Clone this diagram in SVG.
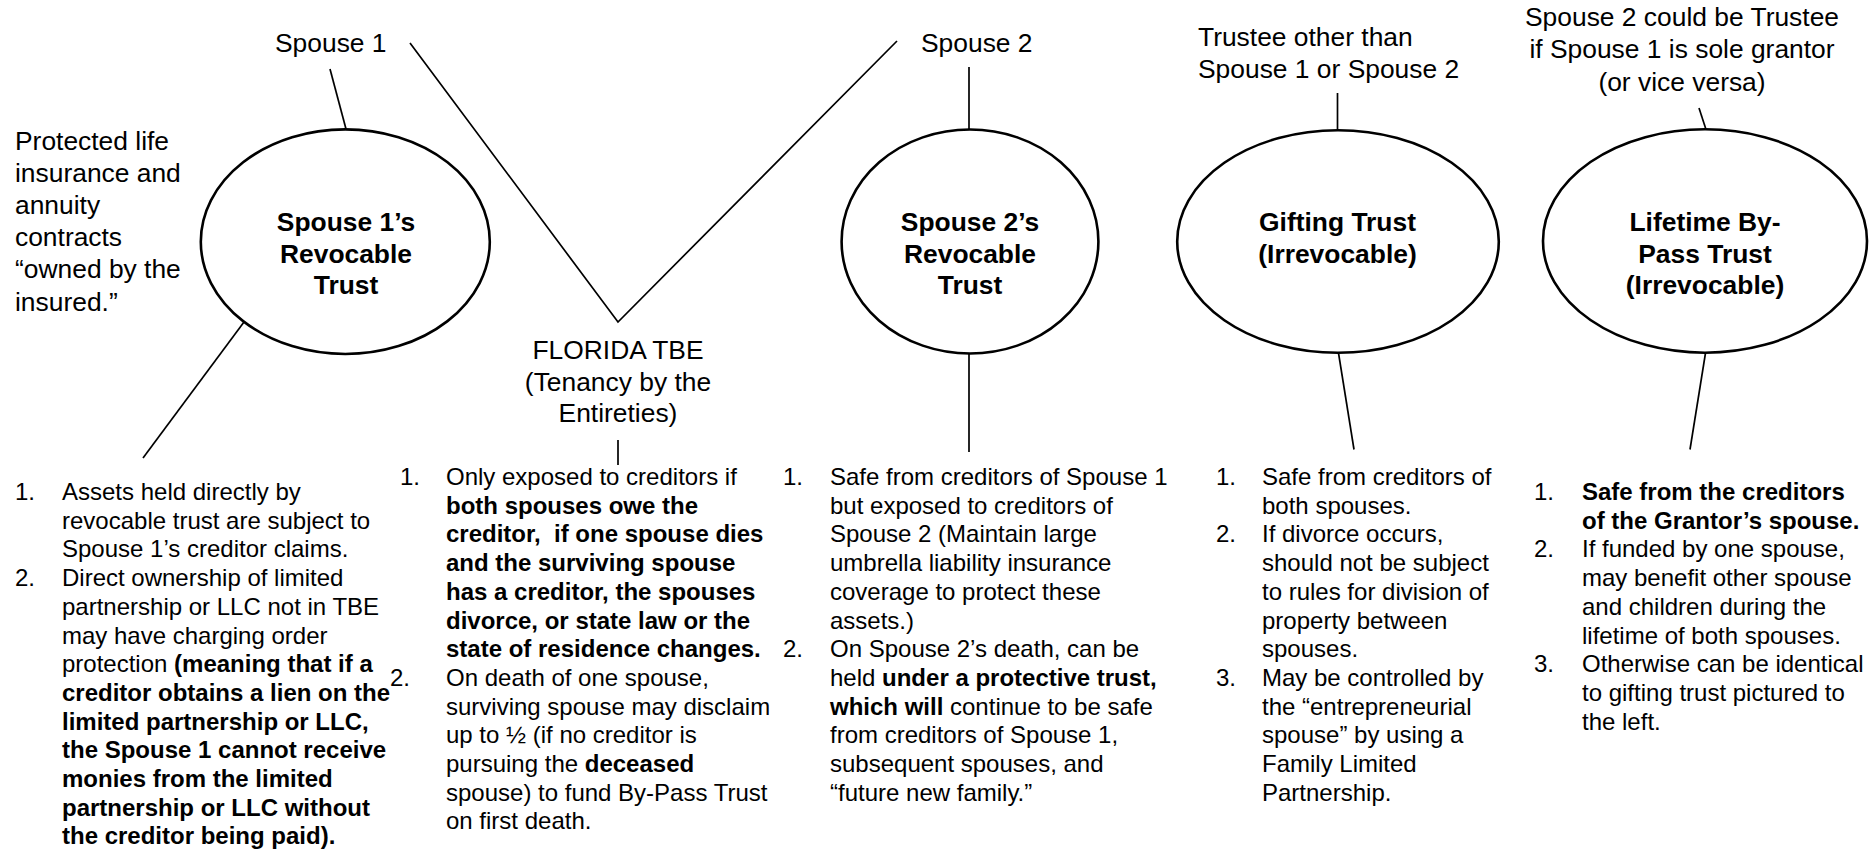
<svg xmlns="http://www.w3.org/2000/svg" width="1872" height="851" viewBox="0 0 1872 851">
  <style>
    text { font-family: "Liberation Sans", Arial, sans-serif; fill: #000; }
    .lbl { font-size: 26.4px; }
    .ttl { font-size: 26.4px; font-weight: bold; text-anchor: middle; }
    .li { font-size: 24px; }
    .b { font-weight: bold; }
    .mid { text-anchor: middle; }
    .node { fill: #fff; stroke: #000; stroke-width: 2.6; }
    .conn line, .conn polyline { stroke: #000; stroke-width: 1.7; fill: none; }
  </style>
  <rect width="1872" height="851" fill="#fff"/>

  <!-- connectors -->
  <g id="connectors" class="conn">
    <line x1="330" y1="69" x2="346" y2="129"/>
    <polyline points="410,43 618,322 897,41"/>
    <line x1="244" y1="322" x2="143" y2="458"/>
    <line x1="618" y1="440" x2="618" y2="465"/>
    <line x1="969" y1="67" x2="969" y2="129"/>
    <line x1="969" y1="354" x2="969" y2="452"/>
    <line x1="1337.5" y1="93" x2="1337.5" y2="130"/>
    <line x1="1338.5" y1="353" x2="1354" y2="449.5"/>
    <line x1="1699" y1="108" x2="1706" y2="129.5"/>
    <line x1="1705.5" y1="353" x2="1690" y2="449.5"/>
  </g>

  <!-- labels above the trusts -->
  <g id="spouse1-label"><text class="lbl" x="275" y="52">Spouse 1</text></g>
  <g id="spouse2-label"><text class="lbl" x="921" y="51.5">Spouse 2</text></g>
  <g id="trustee-label">
    <text class="lbl" x="1198" y="45.5">Trustee other than</text>
    <text class="lbl" x="1198" y="77.5">Spouse 1 or Spouse 2</text>
  </g>
  <g id="bypass-trustee-label">
    <text class="lbl mid" x="1682" y="25.5">Spouse 2 could be Trustee</text>
    <text class="lbl mid" x="1682" y="58">if Spouse 1 is sole grantor</text>
    <text class="lbl mid" x="1682" y="90.5">(or vice versa)</text>
  </g>
  <g id="insurance-note">
    <text class="lbl" x="15" y="149.5">Protected life</text>
    <text class="lbl" x="15" y="181.7">insurance and</text>
    <text class="lbl" x="15" y="213.9">annuity</text>
    <text class="lbl" x="15" y="246.1">contracts</text>
    <text class="lbl" x="15" y="278.3">“owned by the</text>
    <text class="lbl" x="15" y="310.5">insured.”</text>
  </g>
  <g id="tbe-label">
    <text class="lbl mid" x="618" y="358.5">FLORIDA TBE</text>
    <text class="lbl mid" x="618" y="390.5">(Tenancy by the</text>
    <text class="lbl mid" x="618" y="422">Entireties)</text>
  </g>

  <!-- trust nodes -->
  <g id="spouse1-trust">
    <ellipse class="node" cx="345.3" cy="241.7" rx="144.5" ry="112.3"/>
    <text class="ttl" x="346" y="231">Spouse 1’s</text>
    <text class="ttl" x="346" y="262.7">Revocable</text>
    <text class="ttl" x="346" y="294.3">Trust</text>
  </g>
  <g id="spouse2-trust">
    <ellipse class="node" cx="970" cy="241.5" rx="128.4" ry="112"/>
    <text class="ttl" x="970" y="231">Spouse 2’s</text>
    <text class="ttl" x="970" y="262.7">Revocable</text>
    <text class="ttl" x="970" y="294.3">Trust</text>
  </g>
  <g id="gifting-trust">
    <ellipse class="node" cx="1338" cy="241.5" rx="160.8" ry="111.3"/>
    <text class="ttl" x="1337.5" y="231">Gifting Trust</text>
    <text class="ttl" x="1337.5" y="262.7">(Irrevocable)</text>
  </g>
  <g id="bypass-trust">
    <ellipse class="node" cx="1705" cy="241" rx="162" ry="111.7"/>
    <text class="ttl" x="1705" y="231">Lifetime By-</text>
    <text class="ttl" x="1705" y="262.7">Pass Trust</text>
    <text class="ttl" x="1705" y="294.3">(Irrevocable)</text>
  </g>

  <!-- notes under Spouse 1's trust -->
  <g id="spouse1-notes">
    <text class="li" x="15" y="500">1.</text>
    <text class="li" x="62" y="500">Assets held directly by</text>
    <text class="li" x="62" y="528.7">revocable trust are subject to</text>
    <text class="li" x="62" y="557.4">Spouse 1’s creditor claims.</text>
    <text class="li" x="15" y="586.1">2.</text>
    <text class="li" x="62" y="586.1">Direct ownership of limited</text>
    <text class="li" x="62" y="614.8">partnership or LLC not in TBE</text>
    <text class="li" x="62" y="643.5">may have charging order</text>
    <text class="li" x="62" y="672.2">protection <tspan class="b">(meaning that if a</tspan></text>
    <text class="li b" x="62" y="700.9">creditor obtains a lien on the</text>
    <text class="li b" x="62" y="729.6">limited partnership or LLC,</text>
    <text class="li b" x="62" y="758.3">the Spouse 1 cannot receive</text>
    <text class="li b" x="62" y="787">monies from the limited</text>
    <text class="li b" x="62" y="815.7">partnership or LLC without</text>
    <text class="li b" x="62" y="844.4">the creditor being paid).</text>
  </g>

  <!-- notes under the TBE -->
  <g id="tbe-notes">
    <text class="li" x="400" y="485">1.</text>
    <text class="li" x="446" y="485">Only exposed to creditors if</text>
    <text class="li b" x="446" y="513.7">both spouses owe the</text>
    <text class="li b" x="446" y="542.4" xml:space="preserve">creditor,  if one spouse dies</text>
    <text class="li b" x="446" y="571.1">and the surviving spouse</text>
    <text class="li b" x="446" y="599.8">has a creditor, the spouses</text>
    <text class="li b" x="446" y="628.5">divorce, or state law or the</text>
    <text class="li b" x="446" y="657.2">state of residence changes.</text>
    <text class="li" x="390" y="685.9">2.</text>
    <text class="li" x="446" y="685.9">On death of one spouse,</text>
    <text class="li" x="446" y="714.6">surviving spouse may disclaim</text>
    <text class="li" x="446" y="743.3">up to ½ (if no creditor is</text>
    <text class="li" x="446" y="772">pursuing the <tspan class="b">deceased</tspan></text>
    <text class="li" x="446" y="800.7">spouse) to fund By-Pass Trust</text>
    <text class="li" x="446" y="829.4">on first death.</text>
  </g>

  <!-- notes under Spouse 2's trust -->
  <g id="spouse2-notes">
    <text class="li" x="783" y="485">1.</text>
    <text class="li" x="830" y="485">Safe from creditors of Spouse 1</text>
    <text class="li" x="830" y="513.7">but exposed to creditors of</text>
    <text class="li" x="830" y="542.4">Spouse 2 (Maintain large</text>
    <text class="li" x="830" y="571.1">umbrella liability insurance</text>
    <text class="li" x="830" y="599.8">coverage to protect these</text>
    <text class="li" x="830" y="628.5">assets.)</text>
    <text class="li" x="783" y="657.2">2.</text>
    <text class="li" x="830" y="657.2">On Spouse 2’s death, can be</text>
    <text class="li" x="830" y="685.9">held <tspan class="b">under a protective trust,</tspan></text>
    <text class="li" x="830" y="714.6"><tspan class="b">which will</tspan> continue to be safe</text>
    <text class="li" x="830" y="743.3">from creditors of Spouse 1,</text>
    <text class="li" x="830" y="772">subsequent spouses, and</text>
    <text class="li" x="830" y="800.7">“future new family.”</text>
  </g>

  <!-- notes under the gifting trust -->
  <g id="gifting-notes">
    <text class="li" x="1216" y="485">1.</text>
    <text class="li" x="1262" y="485">Safe from creditors of</text>
    <text class="li" x="1262" y="513.7">both spouses.</text>
    <text class="li" x="1216" y="542.4">2.</text>
    <text class="li" x="1262" y="542.4">If divorce occurs,</text>
    <text class="li" x="1262" y="571.1">should not be subject</text>
    <text class="li" x="1262" y="599.8">to rules for division of</text>
    <text class="li" x="1262" y="628.5">property between</text>
    <text class="li" x="1262" y="657.2">spouses.</text>
    <text class="li" x="1216" y="685.9">3.</text>
    <text class="li" x="1262" y="685.9">May be controlled by</text>
    <text class="li" x="1262" y="714.6">the “entrepreneurial</text>
    <text class="li" x="1262" y="743.3">spouse” by using a</text>
    <text class="li" x="1262" y="772">Family Limited</text>
    <text class="li" x="1262" y="800.7">Partnership.</text>
  </g>

  <!-- notes under the lifetime by-pass trust -->
  <g id="bypass-notes">
    <text class="li" x="1534" y="500">1.</text>
    <text class="li b" x="1582" y="500">Safe from the creditors</text>
    <text class="li b" x="1582" y="528.7">of the Grantor’s spouse.</text>
    <text class="li" x="1534" y="557.4">2.</text>
    <text class="li" x="1582" y="557.4">If funded by one spouse,</text>
    <text class="li" x="1582" y="586.1">may benefit other spouse</text>
    <text class="li" x="1582" y="614.8">and children during the</text>
    <text class="li" x="1582" y="643.5">lifetime of both spouses.</text>
    <text class="li" x="1534" y="672.2">3.</text>
    <text class="li" x="1582" y="672.2">Otherwise can be identical</text>
    <text class="li" x="1582" y="700.9">to gifting trust pictured to</text>
    <text class="li" x="1582" y="729.6">the left.</text>
  </g>
</svg>
